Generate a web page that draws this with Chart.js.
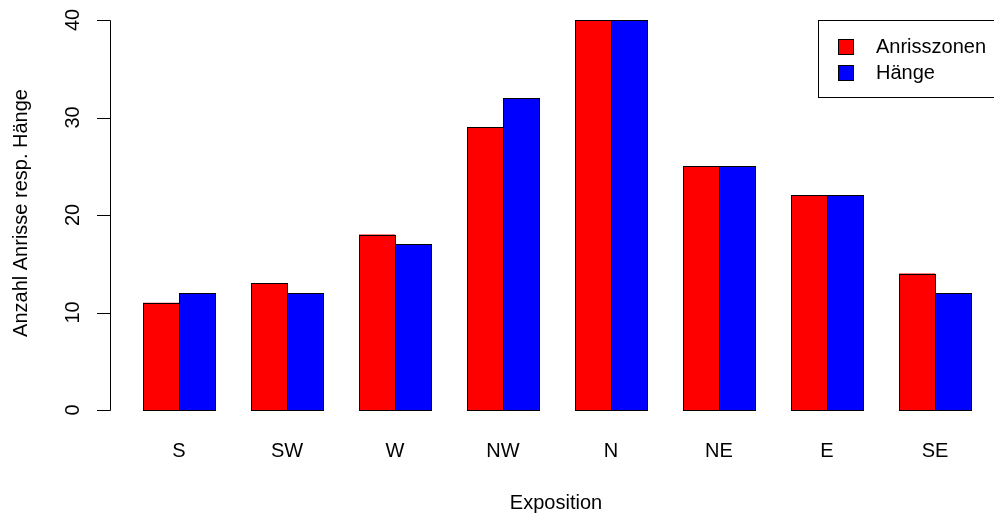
<!DOCTYPE html>
<html>
<head>
<meta charset="utf-8">
<script src="https://cdn.jsdelivr.net/npm/chart.js@4/dist/chart.umd.min.js"></script>
<style>
  html, body { margin: 0; padding: 0; background: #fff; }
  #wrap { width: 994px; height: 515px; }
</style>
</head>
<body>
<div id="wrap"><canvas id="Chart_Exposition" width="994" height="515"></canvas></div>
<script>
const categories = ["S", "SW", "W", "NW", "N", "NE", "E", "SE"];
const anrisszonen = [11, 13, 18, 29, 40, 25, 22, 14];
const haenge = [12, 12, 17, 32, 40, 25, 22, 12];
const yTicks = [0, 10, 20, 30, 40];

const FONT = '20px "Liberation Sans", Arial, Helvetica, sans-serif';

// schwarze Umrandung jedes Balkens (auf allen vier Seiten)
const barOutline = {
  id: "barOutline",
  afterDatasetsDraw(chart) {
    const ctx = chart.ctx;
    ctx.save();
    ctx.strokeStyle = "#000";
    ctx.lineWidth = 1;
    chart.data.datasets.forEach((ds, i) => {
      chart.getDatasetMeta(i).data.forEach(bar => {
        const l = Math.round(bar.x - bar.width / 2) + 0.5;
        const r = Math.round(bar.x + bar.width / 2) + 0.5;
        const t = Math.round(bar.y) + 0.5;
        const b = Math.round(bar.base) + 0.5;
        ctx.strokeRect(l, t, r - l, b - t);
      });
    });
    ctx.restore();
  }
};

// Achsen, Beschriftungen und Legende im Stil von R zeichnen
const rAxes = {
  id: "rAxes",
  afterDraw(chart) {
    const ctx = chart.ctx;
    const x = chart.scales.x;
    const y = chart.scales.y;
    ctx.save();
    ctx.strokeStyle = "#000";
    ctx.fillStyle = "#000";
    ctx.lineWidth = 1;
    ctx.font = FONT;

    // y-Achse
    const ax = 110.5;
    ctx.beginPath();
    ctx.moveTo(ax, Math.round(y.getPixelForValue(yTicks[0])) + 0.5);
    ctx.lineTo(ax, Math.round(y.getPixelForValue(yTicks[yTicks.length - 1])) + 0.5);
    yTicks.forEach(v => {
      const py = Math.round(y.getPixelForValue(v)) + 0.5;
      ctx.moveTo(ax, py);
      ctx.lineTo(97, py);
    });
    ctx.stroke();

    ctx.textAlign = "center";
    ctx.textBaseline = "middle";
    yTicks.forEach(v => {
      ctx.save();
      ctx.translate(73, y.getPixelForValue(v));
      ctx.rotate(-Math.PI / 2);
      ctx.fillText(String(v), 0, 0);
      ctx.restore();
    });

    // Kategorien
    categories.forEach((c, i) => {
      ctx.fillText(c, x.getPixelForValue(i), 451);
    });

    // Achsentitel
    ctx.fillText("Exposition", 556, 503);
    ctx.save();
    ctx.translate(21, 213);
    ctx.rotate(-Math.PI / 2);
    ctx.fillText("Anzahl Anrisse resp. Hänge", 0, 0);
    ctx.restore();

    // Legende
    ctx.strokeRect(818.5, 20.5, 200, 77);
    ctx.textAlign = "left";
    chart.data.datasets.forEach((ds, i) => {
      const cy = 46 + i * 26.5;
      ctx.fillStyle = ds.backgroundColor;
      ctx.fillRect(838.5, Math.round(cy - 7.5) + 0.5, 15, 15);
      ctx.strokeRect(838.5, Math.round(cy - 7.5) + 0.5, 15, 15);
      ctx.fillStyle = "#000";
      ctx.fillText(ds.label, 876, cy + 1);
    });
    ctx.restore();
  }
};

new Chart(document.getElementById("Chart_Exposition"), {
  type: "bar",
  data: {
    labels: categories,
    datasets: [
      {
        label: "Anrisszonen",
        data: anrisszonen,
        backgroundColor: "#FF0000",
        borderWidth: 0,
      },
      {
        label: "Hänge",
        data: haenge,
        backgroundColor: "#0000FF",
        borderWidth: 0,
      },
    ],
  },
  options: {
    responsive: false,
    animation: false,
    events: [],
    layout: { padding: { left: 125, right: 5, top: 20, bottom: 105 } },
    datasets: { bar: { categoryPercentage: 2 / 3, barPercentage: 1, inflateAmount: 0 } },
    scales: {
      x: { display: false },
      y: { display: false, min: 0, max: 40 },
    },
    plugins: {
      legend: { display: false },
      tooltip: { enabled: false },
    },
  },
  plugins: [barOutline, rAxes],
});
</script>
</body>
</html>
